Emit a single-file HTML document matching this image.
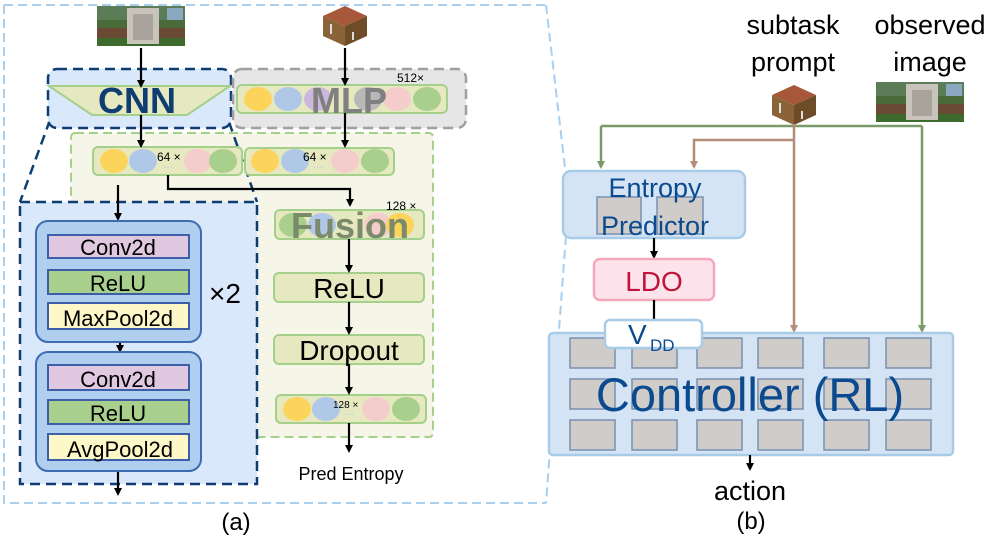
<!DOCTYPE html>
<html><head><meta charset="utf-8"><style>
html,body{margin:0;padding:0;background:#fff;}
svg{display:block;font-family:"Liberation Sans",Arial,sans-serif;}
</style></head><body>
<svg width="996" height="543" viewBox="0 0 996 543" xmlns="http://www.w3.org/2000/svg">
<defs>
<marker id="ak" markerWidth="8" markerHeight="8" refX="6" refY="4" orient="auto" markerUnits="userSpaceOnUse"><path d="M0,0 L8,4 L0,8 Z" fill="#000"/></marker>
<marker id="ag" markerWidth="8" markerHeight="8" refX="6" refY="4" orient="auto" markerUnits="userSpaceOnUse"><path d="M0,0 L8,4 L0,8 Z" fill="#7a9a68"/></marker>
<marker id="ab" markerWidth="8" markerHeight="8" refX="6" refY="4" orient="auto" markerUnits="userSpaceOnUse"><path d="M0,0 L8,4 L0,8 Z" fill="#b48e78"/></marker>
<g id="img">
<rect x="0" y="0" width="88" height="40" fill="#4a6a3a"/>
<rect x="0" y="0" width="88" height="14" fill="#5c7c58"/>
<rect x="0" y="22" width="88" height="10" fill="#6a4a34"/>
<rect x="0" y="32" width="88" height="8" fill="#3e6a2e"/>
<rect x="30" y="2" width="32" height="36" fill="#c8c4bc"/>
<rect x="36" y="8" width="20" height="26" fill="#a8a49c"/>
<rect x="70" y="2" width="16" height="12" fill="#8aa8c0"/>
</g>
<g id="craft">
<path d="M0,10 L22,0 L44,10 L22,20 Z" fill="#a8583a"/>
<path d="M0,10 L22,20 L22,40 L0,30 Z" fill="#8a6438"/>
<path d="M22,20 L44,10 L44,30 L22,40 Z" fill="#6e4c28"/>
<path d="M8,18 L8,28 M30,26 L30,34" stroke="#ddd" stroke-width="2"/>
</g>
</defs>

<!-- outer dashed (a) -->
<path d="M4,5 L546,5 M4,5 L4,503 L546,503" fill="none" stroke="#a8cff0" stroke-width="2" stroke-dasharray="9,5"/>
<path d="M546,5 L565,168 M566,236 L546,503" fill="none" stroke="#a8cff0" stroke-width="2" stroke-dasharray="9,5"/>

<!-- images left -->
<use href="#img" x="97" y="6" transform="translate(0,0)"/>
<use href="#craft" x="323" y="6"/>

<!-- green fusion area -->
<rect x="71" y="133" width="362" height="304" rx="4" fill="#f5f5e8" stroke="#a4d08c" stroke-width="2" stroke-dasharray="9,5"/>

<!-- CNN detail box -->
<path d="M50,120 L20,202 M229,122 L257,202" stroke="#0d3d73" stroke-width="2.5" stroke-dasharray="10,6" fill="none"/>
<rect x="20" y="202" width="237" height="282" fill="#dae8fc" stroke="#0d3d73" stroke-width="2.5" stroke-dasharray="10,6"/>

<!-- CNN box -->
<rect x="48" y="69" width="183" height="59" rx="9" fill="#dae8fc" stroke="#0d3d73" stroke-width="2.5" stroke-dasharray="10,6"/>
<path d="M49,86 L230,86 L187,115 L92,115 Z" fill="#e6e8c0" stroke="#a4d08c" stroke-width="2"/>
<text x="137" y="113" font-size="36" font-weight="bold" fill="#0d3d73" text-anchor="middle">CNN</text>

<!-- MLP box -->
<rect x="233" y="69" width="233" height="59" rx="9" fill="#e6e6e6" stroke="#a0a0a0" stroke-width="2.5" stroke-dasharray="10,6"/>
<rect x="237" y="85" width="210" height="28" rx="5" fill="#e6e8c0" stroke="#a4d08c" stroke-width="2"/>
<ellipse cx="258" cy="99" rx="14" ry="12" fill="#fcd45c"/>
<ellipse cx="288" cy="99" rx="14" ry="12" fill="#b0c8e8"/>
<ellipse cx="318" cy="99" rx="14" ry="12" fill="#ccb8dc"/>
<ellipse cx="368" cy="99" rx="14" ry="12" fill="#b8b8b8"/>
<ellipse cx="397" cy="99" rx="14" ry="12" fill="#f4cccc"/>
<ellipse cx="427" cy="99" rx="14" ry="12" fill="#a8d08c"/>
<text x="349" y="113" font-size="36" font-weight="bold" fill="#808080" text-anchor="middle">MLP</text>
<text x="397" y="82" font-size="12" fill="#000">512×</text>

<!-- 64 bars -->
<rect x="93" y="147" width="149" height="28" rx="5" fill="#e6e8c0" stroke="#a4d08c" stroke-width="2"/>
<ellipse cx="114" cy="161" rx="14" ry="12" fill="#fcd45c"/>
<ellipse cx="143" cy="161" rx="14" ry="12" fill="#b0c8e8"/>
<ellipse cx="198" cy="161" rx="14" ry="12" fill="#f4cccc"/>
<ellipse cx="223" cy="161" rx="14" ry="12" fill="#a8d08c"/>
<text x="157" y="161" font-size="12" fill="#000">64 ×</text>
<text x="163" y="170" font-size="10" fill="#a8c8e8">···</text>
<rect x="245" y="148" width="149" height="27" rx="5" fill="#e6e8c0" stroke="#a4d08c" stroke-width="2"/>
<ellipse cx="265" cy="161" rx="14" ry="12" fill="#fcd45c"/>
<ellipse cx="295" cy="161" rx="14" ry="12" fill="#b0c8e8"/>
<ellipse cx="345" cy="161" rx="14" ry="12" fill="#f4cccc"/>
<ellipse cx="375" cy="161" rx="14" ry="12" fill="#a8d08c"/>
<text x="303" y="161" font-size="12" fill="#000">64 ×</text>
<text x="313" y="170" font-size="10" fill="#a8c8e8">···</text>

<!-- fusion -->
<rect x="275" y="210" width="149" height="29" rx="5" fill="#e6e8c0" stroke="#a4d08c" stroke-width="2"/>
<ellipse cx="293" cy="225" rx="14" ry="12" fill="#a8d08c"/>
<ellipse cx="322" cy="225" rx="14" ry="12" fill="#b0c8e8"/>
<ellipse cx="378" cy="225" rx="14" ry="12" fill="#f4cccc"/>
<ellipse cx="400" cy="225" rx="14" ry="12" fill="#fcd45c"/>
<text x="350" y="238" font-size="36" font-weight="bold" fill="#7a8a6a" text-anchor="middle">Fusion</text>
<text x="386" y="210" font-size="12" fill="#000">128 ×</text>

<rect x="274" y="273" width="150" height="29" rx="5" fill="#e6e8c0" stroke="#a4d08c" stroke-width="2"/>
<text x="349" y="298" font-size="28" fill="#000" text-anchor="middle">ReLU</text>
<rect x="274" y="335" width="150" height="29" rx="5" fill="#e6e8c0" stroke="#a4d08c" stroke-width="2"/>
<text x="349" y="360" font-size="28" fill="#000" text-anchor="middle">Dropout</text>

<rect x="276" y="395" width="150" height="28" rx="5" fill="#e6e8c0" stroke="#a4d08c" stroke-width="2"/>
<ellipse cx="297" cy="409" rx="14" ry="12" fill="#fcd45c"/>
<ellipse cx="326" cy="409" rx="14" ry="12" fill="#b0c8e8"/>
<ellipse cx="376" cy="409" rx="14" ry="12" fill="#f4cccc"/>
<ellipse cx="406" cy="409" rx="14" ry="12" fill="#a8d08c"/>
<text x="333" y="408" font-size="10" fill="#000">128 ×</text>
<text x="344" y="417" font-size="10" fill="#a8c8e8">···</text>

<text x="351" y="480" font-size="18" fill="#000" text-anchor="middle">Pred Entropy</text>
<text x="236" y="530" font-size="24" fill="#000" text-anchor="middle">(a)</text>

<!-- left arrows -->
<g stroke="#000" stroke-width="2.2" fill="none">
<path d="M141,48 L141,86" marker-end="url(#ak)"/>
<path d="M141,115 L141,146" marker-end="url(#ak)"/>
<path d="M345,48 L345,84" marker-end="url(#ak)"/>
<path d="M345,113 L345,146" marker-end="url(#ak)"/>
<path d="M168,175 L168,189 L350,189 L350,205" marker-end="url(#ak)"/>
<path d="M349,239 L349,271" marker-end="url(#ak)"/>
<path d="M349,302 L349,333" marker-end="url(#ak)"/>
<path d="M349,364 L349,393" marker-end="url(#ak)"/>
<path d="M349,423 L349,451" marker-end="url(#ak)"/>
<path d="M118,185 L118,219" marker-end="url(#ak)"/>
<path d="M120,329 L120,351" marker-end="url(#ak)"/>
<path d="M118,460 L118,494" marker-end="url(#ak)"/>
</g>

<!-- blocks -->
<rect x="36" y="221" width="165" height="121" rx="12" fill="#b0cfee" stroke="#3d6cb0" stroke-width="2"/>
<rect x="48" y="235" width="141" height="23" fill="#e0c8e0" stroke="#3d5ea8" stroke-width="2"/>
<text x="118" y="255" font-size="22" text-anchor="middle">Conv2d</text>
<rect x="48" y="270" width="141" height="24" fill="#a8d08c" stroke="#3d5ea8" stroke-width="2"/>
<text x="118" y="291" font-size="22" text-anchor="middle">ReLU</text>
<rect x="48" y="303" width="141" height="26" fill="#fef8c8" stroke="#3d5ea8" stroke-width="2"/>
<text x="118" y="326" font-size="22" text-anchor="middle">MaxPool2d</text>
<rect x="36" y="352" width="165" height="119" rx="12" fill="#b0cfee" stroke="#3d6cb0" stroke-width="2"/>
<rect x="48" y="365" width="141" height="25" fill="#e0c8e0" stroke="#3d5ea8" stroke-width="2"/>
<text x="118" y="387" font-size="22" text-anchor="middle">Conv2d</text>
<rect x="48" y="400" width="141" height="24" fill="#a8d08c" stroke="#3d5ea8" stroke-width="2"/>
<text x="118" y="421" font-size="22" text-anchor="middle">ReLU</text>
<rect x="48" y="434" width="141" height="26" fill="#fef8c8" stroke="#3d5ea8" stroke-width="2"/>
<text x="120" y="457" font-size="22" text-anchor="middle">AvgPool2d</text>
<text x="209" y="303" font-size="28" fill="#000">×2</text>

<!-- right panel -->
<text x="793" y="34" font-size="27" text-anchor="middle">subtask</text>
<text x="793" y="71" font-size="27" text-anchor="middle">prompt</text>
<text x="930" y="34" font-size="27" text-anchor="middle">observed</text>
<text x="930" y="71" font-size="27" text-anchor="middle">image</text>
<use href="#craft" x="772" y="85"/>
<use href="#img" x="876" y="82" transform="translate(0,0)"/>

<g fill="none" stroke-width="2.5">
<path d="M601,126 L922,126" stroke="#7a9a68"/>
<path d="M601,126 L601,167" stroke="#7a9a68" marker-end="url(#ag)"/>
<path d="M922,126 L922,331" stroke="#7a9a68" marker-end="url(#ag)"/>
<path d="M794,124 L794,331" stroke="#b48e78" marker-end="url(#ab)"/>
<path d="M794,140 L694,140 L694,167" stroke="#b48e78" marker-end="url(#ab)"/>
</g>

<rect x="563" y="171" width="182" height="67" rx="8" fill="#d4e4f4" stroke="#a8cce8" stroke-width="2.5"/>
<rect x="597" y="197" width="44" height="37" fill="#d0ccca" stroke="#7890b0" stroke-width="1.5"/>
<rect x="657" y="197" width="46" height="37" fill="#d0ccca" stroke="#7890b0" stroke-width="1.5"/>
<text x="655" y="197" font-size="27" fill="#0b4a8f" text-anchor="middle">Entropy</text>
<text x="655" y="235" font-size="27" fill="#0b4a8f" text-anchor="middle">Predictor</text>

<path d="M654,238 L654,257" stroke="#000" stroke-width="2.2" marker-end="url(#ak)"/>
<rect x="594" y="259" width="120" height="41" rx="6" fill="#fde4ec" stroke="#f4a8bc" stroke-width="2.5"/>
<text x="654" y="291" font-size="28" fill="#c0143c" text-anchor="middle">LDO</text>
<path d="M654,300 L654,320" stroke="#000" stroke-width="2.2"/>

<rect x="549" y="333" width="404" height="122" rx="4" fill="#d4e4f4" stroke="#a8cce8" stroke-width="2.5"/>
<g fill="#d0ccca" stroke="#7890b0" stroke-width="1.5">
<rect x="570" y="338" width="45" height="30"/><rect x="632" y="338" width="45" height="30"/><rect x="697" y="338" width="45" height="30"/><rect x="758" y="338" width="45" height="30"/><rect x="824" y="338" width="45" height="30"/><rect x="886" y="338" width="45" height="30"/>
<rect x="570" y="379" width="45" height="30"/><rect x="632" y="379" width="45" height="30"/><rect x="697" y="379" width="45" height="30"/><rect x="758" y="379" width="45" height="30"/><rect x="824" y="379" width="45" height="30"/><rect x="886" y="379" width="45" height="30"/>
<rect x="570" y="420" width="45" height="30"/><rect x="632" y="420" width="45" height="30"/><rect x="697" y="420" width="45" height="30"/><rect x="758" y="420" width="45" height="30"/><rect x="824" y="420" width="45" height="30"/><rect x="886" y="420" width="45" height="30"/>
</g>
<text x="750" y="411" font-size="47" fill="#0b4a8f" text-anchor="middle">Controller (RL)</text>

<rect x="605" y="320" width="97" height="28" rx="5" fill="#fff" stroke="#a8cce8" stroke-width="2.5"/>
<text x="628" y="344" font-size="28" fill="#0b4a8f">V</text>
<text x="650" y="351" font-size="17" fill="#0b4a8f">DD</text>

<path d="M750,455 L750,469" stroke="#000" stroke-width="2.2" marker-end="url(#ak)"/>
<text x="750" y="500" font-size="27" text-anchor="middle">action</text>
<text x="751" y="529" font-size="24" text-anchor="middle">(b)</text>
</svg>
</body></html>
